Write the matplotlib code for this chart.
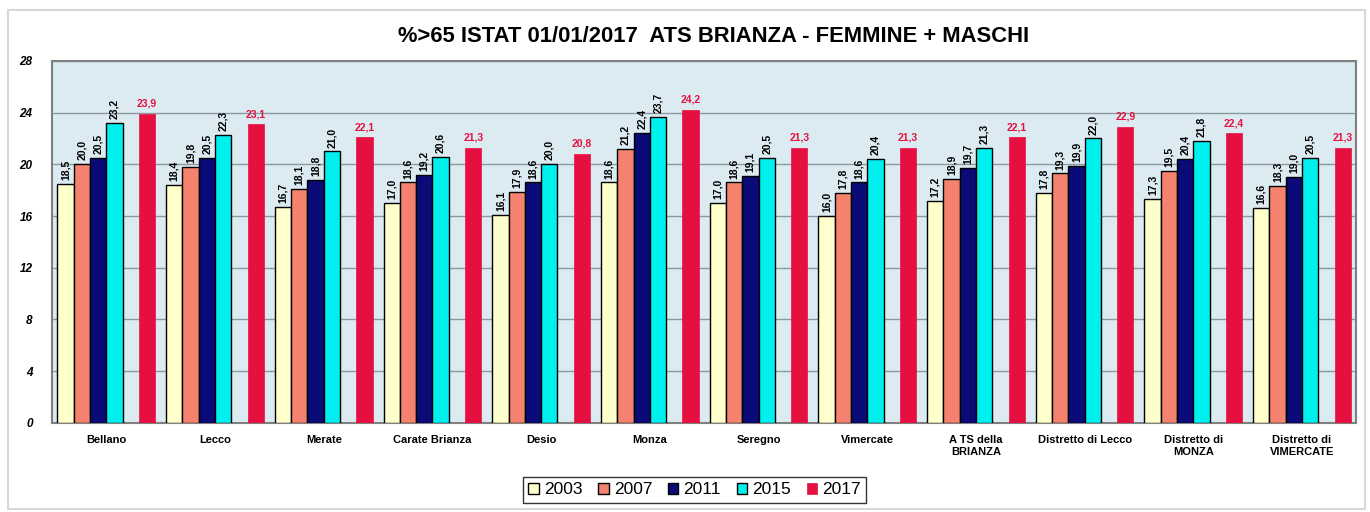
import matplotlib.pyplot as plt
import numpy as np

plt.rcParams['font.family'] = ['Liberation Sans', 'DejaVu Sans']

categories = ['Bellano', 'Lecco', 'Merate', 'Carate Brianza', 'Desio', 'Monza',
              'Seregno', 'Vimercate', 'A TS della\nBRIANZA', 'Distretto di Lecco',
              'Distretto di\nMONZA', 'Distretto di\nVIMERCATE']
years = ['2003', '2007', '2011', '2015', '2017']
v2003 = [18.5, 18.4, 16.7, 17.0, 16.1, 18.6, 17.0, 16.0, 17.2, 17.8, 17.3, 16.6]
v2007 = [20.0, 19.8, 18.1, 18.6, 17.9, 21.2, 18.6, 17.8, 18.9, 19.3, 19.5, 18.3]
v2011 = [20.5, 20.5, 18.8, 19.2, 18.6, 22.4, 19.1, 18.6, 19.7, 19.9, 20.4, 19.0]
v2015 = [23.2, 22.3, 21.0, 20.6, 20.0, 23.7, 20.5, 20.4, 21.3, 22.0, 21.8, 20.5]
v2017 = [23.9, 23.1, 22.1, 21.3, 20.8, 24.2, 21.3, 21.3, 22.1, 22.9, 22.4, 21.3]

series = [v2003, v2007, v2011, v2015, v2017]
colors = ['#FFFFCC', '#F4826E', '#0A0A78', '#00F0F0', '#E5103F']
slots = [-2.5, -1.5, -0.5, 0.5, 2.5]   # slot 1.5 left empty, as in the original
w = 0.15

fig = plt.figure(figsize=(13.7, 5.12), dpi=100)
ax = fig.add_axes([0.038, 0.174, 0.952, 0.707])
ax.set_facecolor('#DCEBF1')

x = np.arange(len(categories))
for i, (vals, col, s) in enumerate(zip(series, colors, slots)):
    if i < 4:
        bars = ax.bar(x + s * w, vals, w, color=col, edgecolor='black', linewidth=1.0,
                      label=years[i], zorder=3)
        for b, v in zip(bars, vals):
            ax.text(b.get_x() + b.get_width() / 2, v + 0.3, ('%.1f' % v).replace('.', ','),
                    rotation=90, ha='center', va='bottom', fontsize=7.5, fontweight='bold')
    else:
        bars = ax.bar(x + s * w, vals, w, color=col, edgecolor=col, linewidth=0.5,
                      label=years[i], zorder=3)
        for b, v in zip(bars, vals):
            ax.text(b.get_x() + b.get_width() / 2, v + 0.4, ('%.1f' % v).replace('.', ','),
                    ha='center', va='bottom', fontsize=7.5, fontweight='bold', color='#E5103F')

ax.set_xlim(-0.5, len(categories) - 0.5)
ax.set_ylim(0, 28)
ax.set_yticks(range(0, 29, 4))
ax.set_yticklabels([str(t) for t in range(0, 29, 4)], fontsize=8.5, fontweight='bold',
                   fontstyle='italic')
ax.set_xticks(x)
ax.set_xticklabels(categories, fontsize=8, fontweight='bold')
ax.tick_params(axis='x', length=0, pad=9)
ax.tick_params(axis='y', length=0, pad=14)
ax.grid(axis='y', color='#8A9AA0', linewidth=1.0, zorder=0)
for sp in ax.spines.values():
    sp.set_color('#808080')
    sp.set_linewidth(1.5)

fig.text(0.521, 0.928, '%>65 ISTAT 01/01/2017  ATS BRIANZA - FEMMINE + MASCHI',
         ha='center', va='center', fontsize=15.8, fontweight='bold')

leg = fig.legend(loc='center', bbox_to_anchor=(0.507, 0.043), ncol=5, fontsize=12.5,
                 frameon=True, fancybox=False, edgecolor='black', handlelength=0.6,
                 handleheight=0.6, handletextpad=0.3, columnspacing=0.9,
                 borderpad=0.3)
leg.get_frame().set_linewidth(1.0)

# outer frame
fig.add_artist(plt.Rectangle((0.006, 0.005), 0.99, 0.975, transform=fig.transFigure,
                             fill=False, edgecolor='#D8D8D8', linewidth=1.5))

fig.savefig('out.png', dpi=100)
